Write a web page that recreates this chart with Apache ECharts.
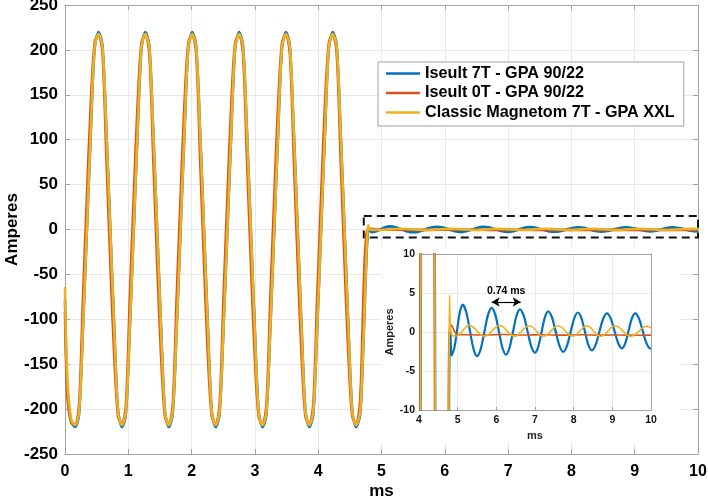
<!DOCTYPE html>
<html>
<head>
<meta charset="utf-8">
<script src="https://cdn.jsdelivr.net/npm/echarts@6/dist/echarts.min.js"></script>
<style>
html,body{margin:0;padding:0;background:#fff;}
#chart{width:708px;height:502px;}
</style>
</head>
<body>
<div id="chart"></div>
<script>
// ---------- DATA ----------
const seriesNames = ['Iseult 7T - GPA 90/22', 'Iseult 0T - GPA 90/22', 'Classic Magnetom 7T - GPA XXL'];
const seriesColors = ['#0072BD', '#D95319', '#EDB120'];

// forced (gradient) part, shared time base (ms)
const forcedTime = [0, 0.037, 0.098,
  0.160, 0.222, 0.283, 0.345, 0.407, 0.468, 0.530, 0.592, 0.653, 0.715, 0.777, 0.838,
  0.900, 0.962, 1.023, 1.085, 1.147, 1.208, 1.270, 1.332, 1.393, 1.455, 1.517, 1.578,
  1.640, 1.702, 1.763, 1.825, 1.887, 1.948, 2.010, 2.072, 2.133, 2.195, 2.257, 2.318,
  2.380, 2.442, 2.503, 2.565, 2.627, 2.688, 2.750, 2.812, 2.873, 2.935, 2.997, 3.058,
  3.120, 3.182, 3.243, 3.305, 3.367, 3.428, 3.490, 3.552, 3.613, 3.675, 3.737, 3.798,
  3.860, 3.922, 3.983, 4.045, 4.107, 4.168, 4.230, 4.292, 4.353, 4.415, 4.477, 4.538,
  4.600];

const iseult7TForced = [-78, -175, -214,
  -220, -206, -112, -3, 107, 201, 220, 205, 112, 3, -107, -201,
  -220, -206, -112, -3, 107, 201, 220, 205, 112, 3, -107, -201,
  -220, -206, -112, -3, 107, 201, 220, 205, 112, 3, -107, -201,
  -220, -206, -112, -3, 107, 201, 220, 205, 112, 3, -107, -201,
  -220, -206, -112, -3, 107, 201, 220, 205, 112, 3, -107, -201,
  -220, -206, -112, -3, 107, 201, 220, 205, 112, 3, -107, -201,
  -220];

const iseult0TForced = [-92, -185, -215,
  -217, -195, -78, 35, 140, 208, 217, 196, 82, -35, -140, -208,
  -217, -195, -78, 35, 140, 208, 217, 196, 82, -35, -140, -208,
  -217, -195, -78, 35, 140, 208, 217, 196, 82, -35, -140, -208,
  -217, -195, -78, 35, 140, 208, 217, 196, 82, -35, -140, -208,
  -217, -195, -78, 35, 140, 208, 217, 196, 82, -35, -140, -208,
  -217, -195, -78, 35, 140, 208, 217, 196, 82, -35, -140, -208,
  -217];

const classicForced = [-64, -165, -212,
  -218, -203, -110, 0, 110, 203, 218, 203, 110, 0, -110, -203,
  -218, -203, -110, 0, 110, 203, 218, 203, 110, 0, -110, -203,
  -218, -203, -110, 0, 110, 203, 218, 203, 110, 0, -110, -203,
  -218, -203, -110, 0, 110, 203, 218, 203, 110, 0, -110, -203,
  -218, -203, -110, 0, 110, 203, 218, 203, 110, 0, -110, -203,
  -218, -203, -110, 0, 110, 203, 218, 203, 110, 0, -110, -203,
  -218];

// ring-down tails
const iseult7TTailTime = [4.662, 4.700, 4.730, 4.760, 4.780, 4.795, 4.810, 4.840,
  4.913, 4.985, 5.058, 5.130, 5.223, 5.315, 5.408, 5.500, 5.595, 5.690, 5.785, 5.880,
  5.973, 6.065, 6.158, 6.250, 6.340, 6.430, 6.520, 6.610, 6.708, 6.805, 6.903, 7.000,
  7.085, 7.170, 7.255, 7.340, 7.438, 7.535, 7.633, 7.730, 7.825, 7.920, 8.015, 8.110,
  8.200, 8.290, 8.380, 8.470, 8.568, 8.665, 8.763, 8.860, 8.958, 9.055, 9.153, 9.250,
  9.335, 9.420, 9.505, 9.590, 9.688, 9.785, 9.883, 9.980, 10.000];
const iseult7TTail = [-206, -155, -95, -35, -8, -0.5, 0.3, -3.0,
  -2.05, 0.25, 2.55, 3.5, 2.53, 0.2, -2.13, -3.1, -2.19, 0, 2.19, 3.1,
  2.22, 0.1, -2.02, -2.9, -2.05, 0, 2.05, 2.9, 2.09, 0.13, -1.84, -2.65,
  -1.87, 0, 1.87, 2.65, 1.89, 0.05, -1.79, -2.55, -1.81, -0.03, 1.76, 2.5,
  1.79, 0.08, -1.64, -2.35, -1.65, 0.03, 1.70, 2.4, 1.74, 0.15, -1.44, -2.1,
  -1.44, 0.15, 1.74, 2.4, 1.74, 0.15, -1.44, -2.1, -2.05];

const iseult0TTailTime = [4.662, 4.700, 4.730, 4.760, 4.780, 4.800, 4.840, 4.880, 4.930,
  5.000, 5.300, 5.700, 6.200, 6.700, 7.200, 7.700, 8.200, 8.700, 9.200, 9.700, 10.000];
const iseult0TTail = [-190, -110, -40, -6, 0.1, 0.4, 0.9, 0.5, 0.0,
  -0.3, -0.35, -0.38, -0.33, -0.38, -0.35, -0.4, -0.36, -0.4, -0.38, -0.42, -0.4];

const classicTailTime = [4.662, 4.700, 4.730, 4.760, 4.780, 4.790, 4.810, 4.840, 4.870, 4.900, 4.950,
  5.038, 5.125, 5.213, 5.300, 5.398, 5.495, 5.593, 5.690, 5.790, 5.890, 5.990, 6.090,
  6.185, 6.280, 6.375, 6.470, 6.565, 6.660, 6.755, 6.850, 6.943, 7.035, 7.128, 7.220,
  7.315, 7.410, 7.505, 7.600, 7.693, 7.785, 7.878, 7.970, 8.063, 8.155, 8.248, 8.340,
  8.430, 8.520, 8.610, 8.700, 8.793, 8.885, 8.978, 9.070, 9.173, 9.275, 9.378, 9.480,
  9.583, 9.685, 9.788, 9.890, 10.000];
const classicTail = [-203, -150, -90, -30, -2, 4.7, 0.5, -0.3, -0.45, -0.5, -0.55,
  -0.34, 0.15, 0.64, 0.85, 0.64, 0.15, -0.34, -0.55, -0.35, 0.14, 0.62, 0.82,
  0.62, 0.14, -0.35, -0.55, -0.35, 0.13, 0.60, 0.8, 0.60, 0.13, -0.35, -0.55,
  -0.35, 0.13, 0.60, 0.8, 0.60, 0.13, -0.35, -0.55, -0.36, 0.12, 0.59, 0.78,
  0.59, 0.12, -0.36, -0.55, -0.36, 0.12, 0.59, 0.78, 0.59, 0.12, -0.36, -0.55,
  -0.36, 0.10, 0.56, 0.75, 0.55];

// axes
const mainX = {min: 0, max: 10, step: 1};
const mainY = {min: -250, max: 250, step: 50};
const insetX = {min: 4, max: 10, step: 1};
const insetY = {min: -10, max: 10, step: 5};

// annotations (data units)
const zoomBox = [[4.72, 15], [10, -9]];
const periodArrow = [[5.88, 3.85], [6.63, 3.85]];
const periodLabel = '0.74 ms';

// ---------- BUILD ----------
function pairs(t, v) { return t.map((x, i) => [x, v[i]]); }
const dataSets = [
  pairs(forcedTime, iseult7TForced).concat(pairs(iseult7TTailTime, iseult7TTail)),
  pairs(forcedTime, iseult0TForced).concat(pairs(iseult0TTailTime, iseult0TTail)),
  pairs(forcedTime, classicForced).concat(pairs(classicTailTime, classicTail))
];

const FONT = 'Liberation Sans, Arial, sans-serif';
const AX = '#a3a3a3';
const GRIDC = '#e9e9e9';

function xAx(grid, r, pos, opts) {
  return Object.assign({
    type: 'value', gridIndex: grid, position: pos, min: r.min, max: r.max, interval: r.step,
    nameMoveOverlap: false,
    axisLine: {show: true, onZero: false, lineStyle: {color: AX, width: 1}},
    axisTick: {show: true, inside: true, length: 5, lineStyle: {color: AX}},
    axisLabel: {show: false},
    splitLine: {show: false}
  }, opts);
}

const chart = echarts.init(document.getElementById('chart'), null, {renderer: 'canvas'});

const mainSeries = dataSets.map((d, i) => ({
  name: seriesNames[i], type: 'line', xAxisIndex: 0, yAxisIndex: 0, data: d,
  showSymbol: false, symbol: 'none', smooth: 0.3, clip: true,
  lineStyle: {color: seriesColors[i], width: 2.6}, itemStyle: {color: seriesColors[i]},
  z: 3, animation: false
}));
mainSeries[2].markArea = {
  silent: true,
  itemStyle: {color: 'rgba(0,0,0,0)', borderColor: '#111', borderWidth: 2, borderType: [8, 5]},
  data: [[{coord: zoomBox[0]}, {coord: zoomBox[1]}]]
};

const insetSeries = dataSets.map((d, i) => ({
  name: seriesNames[i], type: 'line', xAxisIndex: 2, yAxisIndex: 2, data: d,
  showSymbol: false, symbol: 'none', smooth: 0.3, clip: true,
  lineStyle: {color: seriesColors[i], width: i === 0 ? 2.2 : 1.6}, itemStyle: {color: seriesColors[i]},
  z: 6, animation: false
}));
insetSeries[2].markLine = {
  silent: true, symbol: ['arrow', 'arrow'], symbolSize: [7, 8],
  lineStyle: {color: '#000', width: 1.2, type: 'solid'},
  label: {show: true, position: 'middle', formatter: periodLabel, color: '#000', fontWeight: 'bold',
          fontSize: 10.5, fontFamily: FONT, distance: 5},
  data: [[{coord: periodArrow[0]}, {coord: periodArrow[1]}]]
};

const option = {
  animation: false,
  backgroundColor: '#fff',
  textStyle: {fontFamily: FONT},
  grid: [
    {left: 65, right: 10, top: 5, bottom: 48, containLabel: false, outerBoundsMode: 'none'},
    {left: 419, top: 254, width: 232, height: 156, containLabel: false, outerBoundsMode: 'none'}
  ],
  graphic: [{
    type: 'rect', z: 1, silent: true,
    shape: {x: 381, y: 246, width: 299, height: 197},
    style: {fill: '#fff'}
  }],
  legend: {
    data: seriesNames, orient: 'vertical', left: 378, top: 62,
    padding: [3, 9, 5, 8], itemGap: 2.5, itemWidth: 34, itemHeight: 2.5, icon: 'rect',
    backgroundColor: '#fff', borderColor: '#a0a0a0', borderWidth: 1, borderRadius: 0,
    textStyle: {fontSize: 16.2, fontWeight: 'bold', color: '#000', lineHeight: 17, fontFamily: FONT},
    selectedMode: false, z: 8
  },
  xAxis: [
    xAx(0, mainX, 'bottom', {
      name: 'ms', nameLocation: 'middle', nameGap: 28.5,
      nameTextStyle: {fontSize: 17, fontWeight: 'bold', color: '#000', fontFamily: FONT},
      axisLabel: {show: true, fontSize: 16, fontWeight: 'bold', color: '#000', margin: 10, fontFamily: FONT},
      splitLine: {show: true, lineStyle: {color: GRIDC, width: 1}}
    }),
    xAx(0, mainX, 'top', {}),
    xAx(1, insetX, 'bottom', {
      z: 4,
      name: 'ms', nameLocation: 'middle', nameGap: 20.5,
      nameTextStyle: {fontSize: 11, fontWeight: 'bold', color: '#222', fontFamily: FONT},
      axisTick: {show: true, inside: true, length: 3, lineStyle: {color: AX}},
      axisLabel: {show: true, fontSize: 10.5, fontWeight: 'bold', color: '#111', margin: 5, fontFamily: FONT},
      splitLine: {show: true, lineStyle: {color: GRIDC, width: 1}}
    }),
    xAx(1, insetX, 'top', {z: 4, axisTick: {show: false}})
  ],
  yAxis: [
    xAx(0, mainY, 'left', {
      name: 'Amperes', nameLocation: 'middle', nameGap: 44.5, nameRotate: 90,
      nameTextStyle: {fontSize: 17, fontWeight: 'bold', color: '#000', fontFamily: FONT},
      axisLabel: {show: true, fontSize: 17, fontWeight: 'bold', color: '#000', margin: 7, fontFamily: FONT},
      splitLine: {show: true, lineStyle: {color: GRIDC, width: 1}}
    }),
    xAx(0, mainY, 'right', {}),
    xAx(1, insetY, 'left', {
      z: 4,
      name: 'Amperes', nameLocation: 'middle', nameGap: 23.5, nameRotate: 90,
      nameTextStyle: {fontSize: 11, fontWeight: 'bold', color: '#222', fontFamily: FONT},
      axisTick: {show: true, inside: true, length: 3, lineStyle: {color: AX}},
      axisLabel: {show: true, fontSize: 10.5, fontWeight: 'bold', color: '#111', margin: 4, fontFamily: FONT},
      splitLine: {show: true, lineStyle: {color: GRIDC, width: 1}}
    }),
    xAx(1, insetY, 'right', {z: 4, axisTick: {show: false}})
  ],
  series: mainSeries.concat(insetSeries)
};
chart.setOption(option);
</script>
</body>
</html>
